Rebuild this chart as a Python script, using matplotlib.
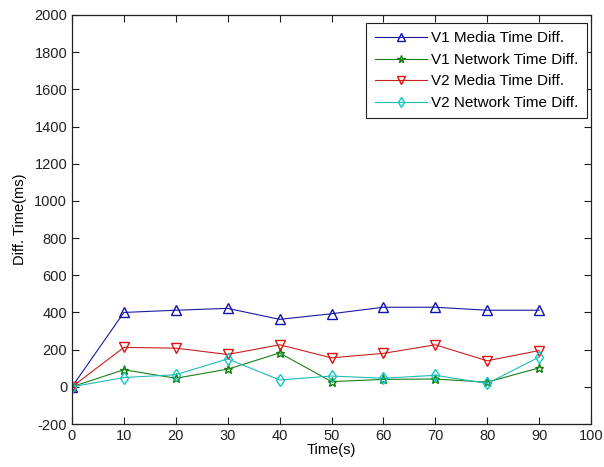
import matplotlib
matplotlib.use("Agg")
import matplotlib.pyplot as plt

time_s = [0, 10, 20, 30, 40, 50, 60, 70, 80, 90]
v1_media = [0, 400, 412, 422, 363, 393, 428, 428, 412, 412]
v1_network = [0, 92, 46, 95, 182, 28, 40, 42, 25, 102]
v2_media = [0, 212, 208, 174, 226, 156, 180, 226, 140, 195]
v2_network = [0, 50, 65, 150, 37, 58, 46, 62, 18, 160]

plt.rcParams['font.family'] = ['Liberation Sans', 'DejaVu Sans']
plt.rcParams['axes.unicode_minus'] = False
fig = plt.figure(figsize=(6.04, 4.67), dpi=100)
ax = fig.add_axes([72/604, 1-424/467, (591-72)/604, (424-15)/467])

ms = 6.5
lw = 0.8
ax.plot(time_s, v1_media, color='#1a1aa0', lw=lw, marker='^', ms=ms, mfc='none', mec='#1010b0', label='V1 Media Time Diff.')
ax.plot(time_s, v1_network, color='#1a801a', lw=lw, marker='*', ms=ms, mfc='none', mec='#108010', label='V1 Network Time Diff.')
ax.plot(time_s, v2_media, color='#c82020', lw=lw, marker='v', ms=ms, mfc='none', mec='#e01010', label='V2 Media Time Diff.')
ax.plot(time_s, v2_network, color='#20baba', lw=lw, marker='d', ms=ms, mfc='none', mec='#10c8c8', label='V2 Network Time Diff.')

ax.set_xlim(0, 100)
ax.set_ylim(-200, 2000)
ax.set_xticks(range(0, 101, 10))
ax.set_yticks(range(-200, 2001, 200))
ax.tick_params(direction='in', top=True, right=True, labelsize=10.5, length=5, width=0.8, colors='#222222')
for s in ax.spines.values():
    s.set_linewidth(0.9)
    s.set_color('#222222')
ax.set_xlabel('Time(s)', fontsize=10.5, labelpad=0)
ax.set_ylabel('Diff. Time(ms)', fontsize=10.5, labelpad=5)

leg = ax.legend(loc='upper right', bbox_to_anchor=(587/604, 1-23/467), bbox_transform=fig.transFigure,
                fontsize=11, frameon=True, fancybox=False, numpoints=1, markerscale=0.85,
                edgecolor='#222222', framealpha=1, handlelength=3.4, handletextpad=0.3,
                borderaxespad=0, borderpad=0.55, labelspacing=0.49)
leg.get_frame().set_linewidth(0.8)

fig.savefig('out.png', dpi=100)
